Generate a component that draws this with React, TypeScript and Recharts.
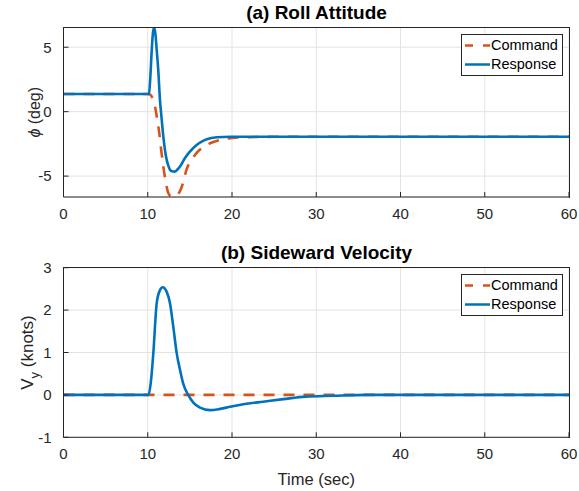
import { LineChart, Line, XAxis, YAxis, CartesianGrid } from "recharts";

// roll attitude, deg
const rollCmdTime = [0, 10, 10.2, 10.45, 10.65, 10.86, 11.1, 11.37, 11.6, 11.85, 12.15, 12.45, 12.85, 13.3, 13.8, 14.2, 14.6, 15.2, 15.8, 16.6, 17.4, 18.5, 19.8, 22, 25, 60];
const rollCmd = [1.37, 1.37, 1.35, 1.2, 0.85, 0.4, -0.5, -1.68, -3.0, -4.26, -5.5, -6.33, -6.6, -6.5, -6.2, -5.5, -4.5, -3.75, -3.2, -2.75, -2.45, -2.2, -2.06, -1.98, -1.95, -1.94];
const rollRespTime = [0, 10, 10.15, 10.3, 10.45, 10.6, 10.75, 10.9, 11.05, 11.25, 11.45, 11.6, 11.85, 12.05, 12.25, 12.45, 12.64, 12.9, 13.2, 13.5, 13.83, 14.42, 15.0, 15.8, 16.4, 17.0, 18.2, 19.8, 60];
const rollResp = [1.37, 1.37, 1.4, 2.6, 4.5, 6.0, 6.53, 6.1, 4.9, 3.2, 0.9, -0.2, -1.94, -3.0, -3.74, -4.2, -4.5, -4.63, -4.65, -4.5, -4.26, -3.6, -3.1, -2.58, -2.32, -2.14, -1.98, -1.94, -1.94];

// sideward velocity, knots
const velCmdTime = [0, 60];
const velCmd = [0, 0];
const velRespTime = [0, 10.1, 10.35, 10.66, 11.06, 11.45, 11.77, 12.25, 12.64, 13.03, 13.44, 13.83, 14.2, 14.8, 15.41, 16.2, 17.4, 18.6, 19.8, 21.7, 23.7, 26.1, 28.8, 32, 36, 60];
const velResp = [0, 0, 0.27, 0.98, 2.16, 2.47, 2.54, 2.43, 2.16, 1.61, 0.98, 0.59, 0.27, 0, -0.18, -0.3, -0.36, -0.33, -0.28, -0.21, -0.16, -0.1, -0.04, -0.02, 0, 0];

const timeTicks = [0, 10, 20, 30, 40, 50, 60];
const rollTicks = [-5, 0, 5];
const velTicks = [-1, 0, 1, 2, 3];

const ORANGE = "#D95319";
const BLUE = "#0072BD";
const AXIS = "#262626";
const FONT = "'Liberation Sans', Arial, Helvetica, sans-serif";

const PLOT_LEFT = 63.5;
const PLOT_RIGHT = 569;

const zip = (t: number[], v: number[]) => t.map((x, i) => ({ t: x, v: v[i] }));

const tickStyle = { fontSize: 15, fill: AXIS, fontFamily: FONT };

function LegendBox({ top }: { top: number }) {
  return (
    <div
      style={{
        position: "absolute",
        left: 461,
        top,
        width: 100,
        height: 40,
        border: `1px solid ${AXIS}`,
        background: "#fff",
        fontFamily: FONT,
        fontSize: 14.5,
        color: "#000",
      }}
    >
      <svg width={30} height={40} style={{ position: "absolute", left: 0, top: 0 }}>
        <line x1={3} x2={28} y1={10.5} y2={10.5} stroke={ORANGE} strokeWidth={2.5} strokeDasharray="8 10" />
        <line x1={3} x2={28} y1={29.5} y2={29.5} stroke={BLUE} strokeWidth={2.5} />
      </svg>
      <div style={{ position: "absolute", left: 29, top: 2, lineHeight: "17px" }}>Command</div>
      <div style={{ position: "absolute", left: 29, top: 21, lineHeight: "17px" }}>Response</div>
    </div>
  );
}

interface PanelProps {
  title: string;
  top: number;
  height: number;
  plotTop: number;
  plotBottom: number;
  domain: [number, number];
  yTicks: number[];
  cmd: { t: number; v: number }[];
  resp: { t: number; v: number }[];
  yLabel: (cx: number, cy: number) => React.ReactNode;
  xLabel?: string;
}

function Panel({ title, top, height, plotTop, plotBottom, domain, yTicks, cmd, resp, yLabel, xLabel }: PanelProps) {
  const xHeight = height - plotBottom;
  const cy = (plotTop + plotBottom) / 2;
  return (
    <div style={{ position: "absolute", left: 0, top, width: 579, height }}>
      <LineChart width={579} height={height} margin={{ top: plotTop, right: 579 - PLOT_RIGHT, left: 0, bottom: 0 }}>
        <CartesianGrid stroke="#E3E3E3" strokeWidth={1} />
        <XAxis
          dataKey="t"
          type="number"
          domain={[0, 60]}
          ticks={timeTicks}
          allowDataOverflow
          height={xHeight}
          stroke={AXIS}
          tickSize={-5}
          tickMargin={16}
          tick={tickStyle}
          label={
            xLabel
              ? { value: xLabel, position: "insideBottom", offset: 6, style: { fontSize: 16.5, fill: AXIS, fontFamily: FONT } }
              : undefined
          }
        />
        <YAxis
          type="number"
          domain={domain}
          ticks={yTicks}
          allowDataOverflow
          width={PLOT_LEFT}
          stroke={AXIS}
          tickSize={-5}
          tickMargin={17}
          tick={tickStyle}
          label={{ content: () => yLabel(34, cy) }}
        />
        <Line
          data={cmd}
          dataKey="v"
          type="monotone"
          stroke={ORANGE}
          strokeWidth={2.6}
          strokeDasharray="11 9"
          dot={false}
          activeDot={false}
          isAnimationActive={false}
        />
        <Line
          data={resp}
          dataKey="v"
          type="monotone"
          stroke={BLUE}
          strokeWidth={2.6}
          dot={false}
          activeDot={false}
          isAnimationActive={false}
        />
      </LineChart>
      {/* axes box frame */}
      <div
        style={{
          position: "absolute",
          left: PLOT_LEFT - 0.5,
          top: plotTop - 0.5,
          width: PLOT_RIGHT - PLOT_LEFT,
          height: plotBottom - plotTop,
          borderTop: `1px solid ${AXIS}`,
          borderRight: `1px solid ${AXIS}`,
          pointerEvents: "none",
        }}
      />
      <div
        style={{
          position: "absolute",
          left: 64,
          width: 505,
          top: plotTop - 26,
          textAlign: "center",
          fontFamily: FONT,
          fontWeight: "bold",
          fontSize: 19,
          color: "#000",
        }}
      >
        {title}
      </div>
      <LegendBox top={plotTop + 6.5} />
    </div>
  );
}

export default function App() {
  return (
    <div style={{ position: "absolute", left: 0, top: 0, width: 579, height: 491, background: "#fff" }}>
      <Panel
        title="(a) Roll Attitude"
        top={0}
        height={240}
        plotTop={27.5}
        plotBottom={197}
        domain={[-6.62, 6.53]}
        yTicks={rollTicks}
        cmd={zip(rollCmdTime, rollCmd)}
        resp={zip(rollRespTime, rollResp)}
        yLabel={(cx, cy) => (
          <text
            x={cx}
            y={cy}
            transform={`rotate(-90 ${cx} ${cy})`}
            textAnchor="middle"
            dominantBaseline="central"
            fontFamily={FONT}
            fontSize={16}
            fill={AXIS}
          >
            <tspan fontStyle="italic">ϕ</tspan>
            <tspan> (deg)</tspan>
          </text>
        )}
      />
      <Panel
        title="(b) Sideward Velocity"
        top={240}
        height={251}
        plotTop={27.7}
        plotBottom={197.3}
        domain={[-1, 3]}
        yTicks={velTicks}
        cmd={zip(velCmdTime, velCmd)}
        resp={zip(velRespTime, velResp)}
        xLabel="Time (sec)"
        yLabel={(cx, cy) => (
          <text
            x={cx}
            y={cy}
            transform={`rotate(-90 ${cx} ${cy})`}
            textAnchor="middle"
            fontFamily={FONT}
            fontSize={17}
            fill={AXIS}
            dy={-1}
          >
            <tspan>V</tspan>
            <tspan fontSize={13} dy={6}>y</tspan>
            <tspan dy={-6}> (knots)</tspan>
          </text>
        )}
      />
    </div>
  );
}
